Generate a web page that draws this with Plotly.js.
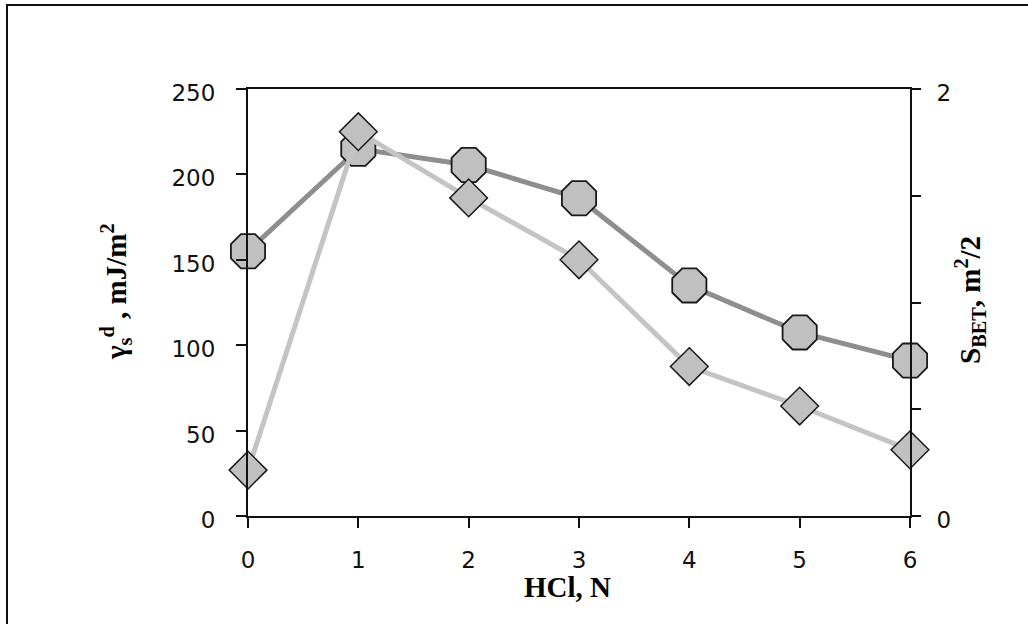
<!DOCTYPE html>
<html>
<head>
<meta charset="utf-8">
<script src="https://cdn.plot.ly/plotly-3.0.1.min.js"></script>
<style>
html,body{margin:0;padding:0;background:#fff;}
#chart{width:1028px;height:624px;}
</style>
</head>
<body>
<div id="chart"></div>
<script>
// Data
var hcl = [0, 1, 2, 3, 4, 5, 6];
var gammaSD = [155, 215, 205.5, 186, 135, 107.5, 91];      // left axis, mJ/m^2 (octagons)
var sBET = [0.215, 1.80, 1.49, 1.20, 0.70, 0.515, 0.31];   // right axis (diamonds)
var xTicks = [0, 1, 2, 3, 4, 5, 6];
var yTicks = [0, 50, 100, 150, 200, 250];
var y2Labelled = [0, 2];
var y2MinorStep = 0.5;

var W = 1028, H = 624;
var L = 248, R = 910, T = 89, B = 516;
function px(x){ return (x - L) / (R - L); }
function py(y){ return (B - y) / (B - T); }

var traces = [
  {
    x: hcl, y: gammaSD, type: 'scatter', mode: 'lines+markers', yaxis: 'y',
    cliponaxis: false,
    line: {color: '#8e8e8e', width: 5},
    marker: {symbol: 'octagon', size: 37, color: '#c0c0c0', line: {color: '#1a1a1a', width: 1.8}}
  },
  {
    x: hcl, y: sBET, type: 'scatter', mode: 'lines+markers', yaxis: 'y2',
    cliponaxis: false,
    line: {color: '#c4c4c4', width: 5},
    marker: {symbol: 'diamond', size: 29, color: '#c0c0c0', line: {color: '#1a1a1a', width: 1.5}}
  }
];

var tickFont = {family: 'DejaVu Sans', size: 23, color: '#111'};
var titleFont = {family: 'Liberation Serif', size: 29, color: '#000'};

var layout = {
  width: W, height: H,
  margin: {l: L, r: W - R, t: T, b: H - B},
  paper_bgcolor: '#fff', plot_bgcolor: '#fff',
  showlegend: false,
  xaxis: {
    range: [0, 6], tickvals: xTicks, ticktext: xTicks.map(String),
    showgrid: false, zeroline: false,
    showline: true, linecolor: '#111', linewidth: 2, mirror: true,
    ticks: 'outside', ticklen: 10, tickwidth: 2, tickcolor: '#111',
    tickfont: tickFont, ticklabelstandoff: 12
  },
  yaxis: {
    range: [0, 250], tickvals: yTicks, ticktext: yTicks.map(String),
    showgrid: false, zeroline: false,
    showline: true, linecolor: '#111', linewidth: 2,
    ticks: 'outside', ticklen: 10, tickwidth: 2, tickcolor: '#111',
    tickfont: tickFont, ticklabelstandoff: 16, ticklabelshift: 4
  },
  yaxis2: {
    overlaying: 'y', side: 'right',
    range: [0, 2], tickvals: y2Labelled, ticktext: y2Labelled.map(String),
    showgrid: false, zeroline: false,
    showline: true, linecolor: '#111', linewidth: 2,
    ticks: 'outside', ticklen: 9, tickwidth: 2, tickcolor: '#111',
    minor: {dtick: y2MinorStep, tick0: 0, ticks: 'outside', ticklen: 9, tickwidth: 2, tickcolor: '#111', showgrid: false},
    tickfont: tickFont, ticklabelstandoff: 11, ticklabelshift: 4
  },
  annotations: [
    {xref: 'paper', yref: 'paper', x: px(567), y: py(587), text: '<b>HCl, N</b>',
     showarrow: false, font: titleFont, xanchor: 'center', yanchor: 'middle'},
    {xref: 'paper', yref: 'paper', x: px(116), y: py(292),
     text: '<b>γ<sub>s</sub><sup>d</sup> , mJ/m<sup>2</sup></b>',
     showarrow: false, font: titleFont, textangle: -90, xanchor: 'center', yanchor: 'middle'},
    {xref: 'paper', yref: 'paper', x: px(970), y: py(300),
     text: '<b>S<sub>BET</sub>, m<sup>2</sup>/2</b>',
     showarrow: false, font: titleFont, textangle: -90, xanchor: 'center', yanchor: 'middle'}
  ],
  shapes: [
    {type: 'rect', xref: 'paper', yref: 'paper', x0: px(7), x1: px(1040), y0: py(640), y1: py(5),
     line: {color: '#111', width: 2}, fillcolor: 'rgba(0,0,0,0)', layer: 'above'}
  ]
};

Plotly.newPlot('chart', traces, layout, {displayModeBar: false, staticPlot: true});
</script>
</body>
</html>
